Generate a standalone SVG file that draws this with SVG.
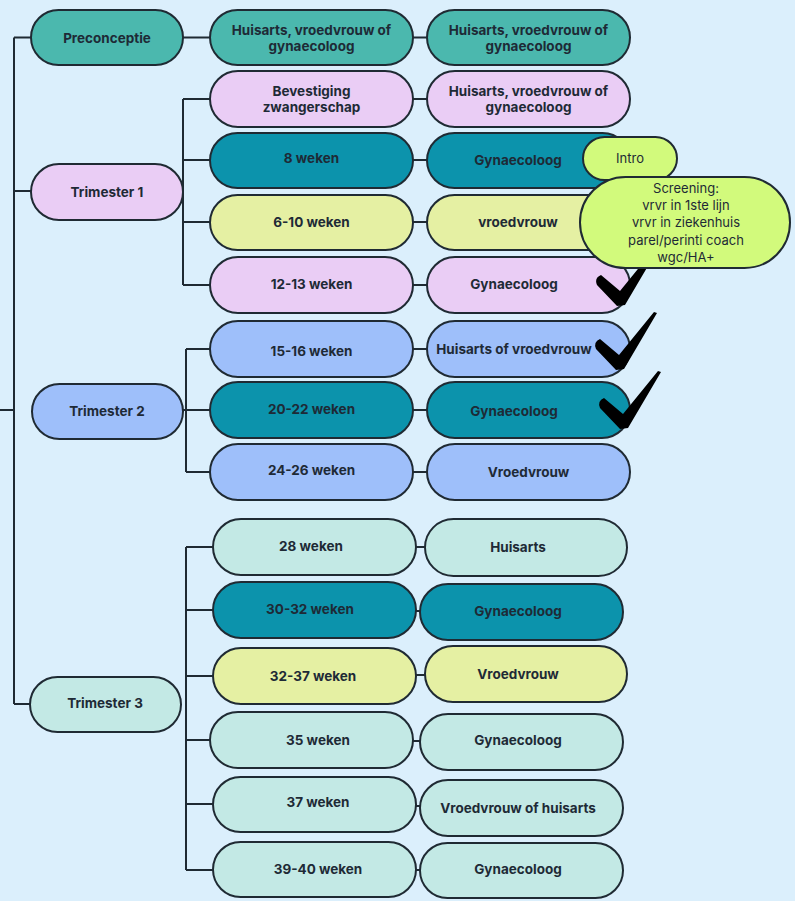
<svg xmlns="http://www.w3.org/2000/svg" width="795" height="901" viewBox="0 0 795 901">
<style>
.bg{fill:#dbeffc}
.p{stroke:#1f2a33;stroke-width:2}
.teal{fill:#4bb8ae}
.pink{fill:#eacdf5}
.dark{fill:#0c93ac}
.yel{fill:#e5f0a3}
.blue{fill:#9ebffa}
.lt{fill:#c3e9e5}
.lime{fill:#d2fa7c}
.t{font-family:Inter,"Liberation Sans",sans-serif;font-weight:700;font-size:13.5px;fill:#1e2a36;text-anchor:middle;dominant-baseline:central}
.r{font-family:Inter,"Liberation Sans",sans-serif;font-weight:400;font-size:13px;fill:#1e2a36;text-anchor:middle;dominant-baseline:central}
.c{stroke:#1f2a33;stroke-width:2;fill:none}
.chk{fill:#000}
</style>
<defs>
<path id="check" d="M-19,-29 L0,-13 L35,-56 L38,-55 L5,1 L-3,2 L-23,-19 Q-26,-26 -19,-29 Z"/>
</defs>
<rect class="bg" x="0" y="0" width="795" height="901"/>
<g id="connectors" class="c">
<path d="M14 37.5V704M14 37.5H31M14 191H31M14 704H30M0 410H14"/>
<path d="M183 37.5H210M413 37.5H427"/>
<path d="M183 99V285M183 99H210M183 160H210M183 222H210M183 285H210"/>
<path d="M413 99H427M413 160H427M413 222H427M413 285H427"/>
<path d="M186 349V472M186 349H210M186 410H210M186 472H210M183 410H186"/>
<path d="M413 349H427M413 410H427M413 472H427"/>
<path d="M186 547V870M186 547H213M186 610H213M186 676H213M186 740H210M186 804H213M186 870H213"/>
<path d="M416 547H425M416 611H420M416 675H425M413 741H420M416 806H420M416 870H420"/>
</g>
<g id="preconceptie"><rect class="p teal" x="31" y="10" width="152" height="55" rx="27.5"/><text class="t" x="107" y="37.5">Preconceptie</text></g>
<g id="pre-a"><rect class="p teal" x="210" y="10" width="203" height="55" rx="27.5"/><text class="t" x="311.5" y="30">Huisarts, vroedvrouw of</text><text class="t" x="311.5" y="46">gynaecoloog</text></g>
<g id="pre-b"><rect class="p teal" x="427" y="10" width="203" height="55" rx="27.5"/><text class="t" x="528.5" y="30">Huisarts, vroedvrouw of</text><text class="t" x="528.5" y="46">gynaecoloog</text></g>

<g id="trimester1"><rect class="p pink" x="31" y="164" width="152" height="56" rx="28"/><text class="t" x="107" y="192">Trimester 1</text></g>
<g id="t1-bevestiging"><rect class="p pink" x="210" y="71" width="203" height="56" rx="28"/><text class="t" x="311.5" y="91">Bevestiging</text><text class="t" x="311.5" y="107">zwangerschap</text></g>
<g id="t1-bevestiging-who"><rect class="p pink" x="427" y="71" width="203" height="56" rx="28"/><text class="t" x="528.5" y="91">Huisarts, vroedvrouw of</text><text class="t" x="528.5" y="107">gynaecoloog</text></g>
<g id="t1-8"><rect class="p dark" x="210" y="133" width="203" height="55" rx="27.5"/><text class="t" x="311.5" y="158">8 weken</text></g>
<g id="t1-8-who"><rect class="p dark" x="427" y="133" width="203" height="55" rx="27.5"/><text class="t" x="518" y="160">Gynaecoloog</text></g>
<g id="t1-6-10"><rect class="p yel" x="210" y="195" width="203" height="55" rx="27.5"/><text class="t" x="311.5" y="222">6-10 weken</text></g>
<g id="t1-6-10-who"><rect class="p yel" x="427" y="195" width="203" height="55" rx="27.5"/><text class="t" x="518" y="222">vroedvrouw</text></g>
<g id="t1-12-13"><rect class="p pink" x="210" y="257" width="203" height="56" rx="28"/><text class="t" x="311.5" y="284">12-13 weken</text></g>
<g id="t1-12-13-who"><rect class="p pink" x="427" y="257" width="203" height="56" rx="28"/><text class="t" x="514" y="284">Gynaecoloog</text></g>

<g id="trimester2"><rect class="p blue" x="32" y="384" width="151" height="55" rx="27.5"/><text class="t" x="107" y="411">Trimester 2</text></g>
<g id="t2-15-16"><rect class="p blue" x="210" y="321" width="203" height="56" rx="28"/><text class="t" x="311.5" y="351">15-16 weken</text></g>
<g id="t2-15-16-who"><rect class="p blue" x="427" y="321" width="203" height="56" rx="28"/><text class="t" x="514" y="349">Huisarts of vroedvrouw</text></g>
<g id="t2-20-22"><rect class="p dark" x="210" y="382" width="203" height="56" rx="28"/><text class="t" x="311.5" y="409">20-22 weken</text></g>
<g id="t2-20-22-who"><rect class="p dark" x="427" y="382" width="203" height="56" rx="28"/><text class="t" x="514" y="411">Gynaecoloog</text></g>
<g id="t2-24-26"><rect class="p blue" x="210" y="444" width="203" height="56" rx="28"/><text class="t" x="311.5" y="470">24-26 weken</text></g>
<g id="t2-24-26-who"><rect class="p blue" x="427" y="444" width="203" height="56" rx="28"/><text class="t" x="528.5" y="472">Vroedvrouw</text></g>

<g id="trimester3"><rect class="p lt" x="30" y="677" width="151" height="55" rx="27.5"/><text class="t" x="105" y="703">Trimester 3</text></g>
<g id="t3-28"><rect class="p lt" x="213" y="519" width="203" height="56" rx="28"/><text class="t" x="311" y="546">28 weken</text></g>
<g id="t3-28-who"><rect class="p lt" x="425" y="519" width="202" height="57" rx="28.5"/><text class="t" x="518" y="547">Huisarts</text></g>
<g id="t3-30-32"><rect class="p dark" x="213" y="582" width="203" height="56" rx="28"/><text class="t" x="310" y="609">30-32 weken</text></g>
<g id="t3-30-32-who"><rect class="p dark" x="420" y="584" width="203" height="56" rx="28"/><text class="t" x="518" y="611">Gynaecoloog</text></g>
<g id="t3-32-37"><rect class="p yel" x="213" y="648" width="203" height="56" rx="28"/><text class="t" x="313" y="676">32-37 weken</text></g>
<g id="t3-32-37-who"><rect class="p yel" x="425" y="646" width="202" height="56" rx="28"/><text class="t" x="518" y="674">Vroedvrouw</text></g>
<g id="t3-35"><rect class="p lt" x="210" y="712" width="203" height="56" rx="28"/><text class="t" x="318" y="740">35 weken</text></g>
<g id="t3-35-who"><rect class="p lt" x="420" y="714" width="203" height="56" rx="28"/><text class="t" x="518" y="740">Gynaecoloog</text></g>
<g id="t3-37"><rect class="p lt" x="213" y="777" width="203" height="55" rx="27.5"/><text class="t" x="318" y="802">37 weken</text></g>
<g id="t3-37-who"><rect class="p lt" x="420" y="780" width="203" height="56" rx="28"/><text class="t" x="518" y="808">Vroedvrouw of huisarts</text></g>
<g id="t3-39-40"><rect class="p lt" x="213" y="842" width="203" height="55" rx="27.5"/><text class="t" x="318" y="869">39-40 weken</text></g>
<g id="t3-39-40-who"><rect class="p lt" x="420" y="843" width="203" height="55" rx="27.5"/><text class="t" x="518" y="869">Gynaecoloog</text></g>

<g id="checks" class="chk">
<use href="#check" x="620" y="304"/>
<use href="#check" x="619" y="368"/>
<use href="#check" x="623" y="427"/>
</g>
<g id="intro"><rect class="p lime" x="583" y="137" width="94" height="43" rx="21.5"/><text class="r" x="630" y="158">Intro</text></g>
<g id="screening"><rect class="p lime" x="580" y="177" width="210" height="91" rx="45.5"/>
<text class="r" x="686" y="188">Screening:</text>
<text class="r" x="686" y="205">vrvr in 1ste lijn</text>
<text class="r" x="686" y="222">vrvr in ziekenhuis</text>
<text class="r" x="686" y="240">parel/perinti coach</text>
<text class="r" x="686" y="257">wgc/HA+</text>
</g>
</svg>
